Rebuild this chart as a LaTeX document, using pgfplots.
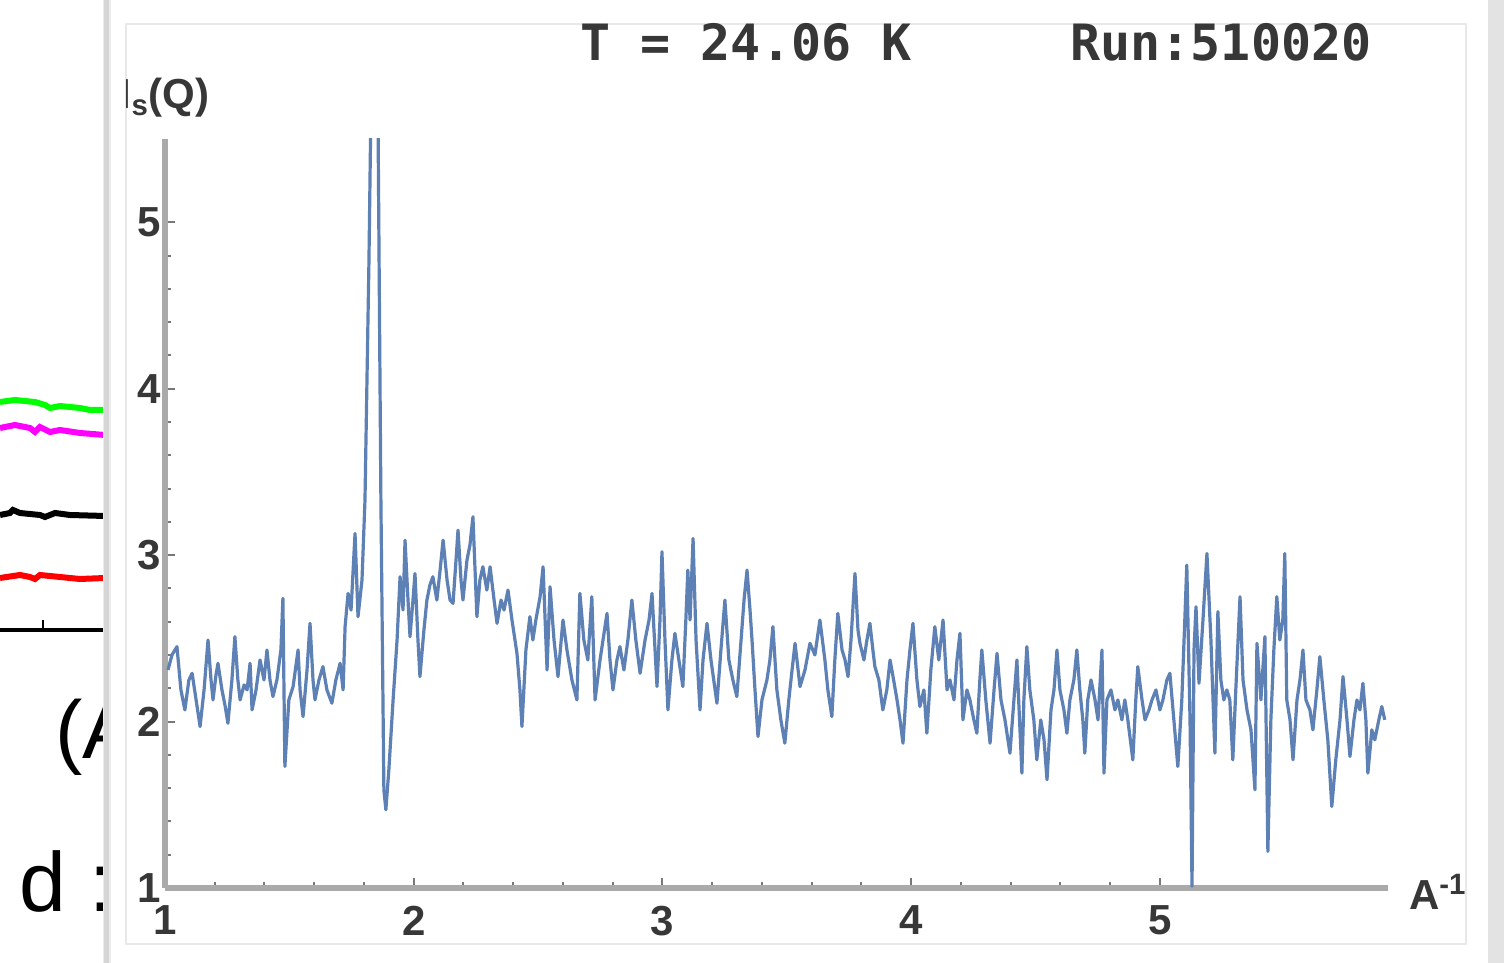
\documentclass[border=0pt]{standalone}
\usepackage{pgfplots}
\pgfplotsset{compat=1.18}
\usepackage{fontspec}
\setmainfont{Liberation Sans}
\newfontfamily\monofont{DejaVu Sans Mono}
\definecolor{mblue}{RGB}{94,129,181}
\definecolor{axisgray}{RGB}{170,170,170}
\definecolor{tickgray}{RGB}{120,120,120}
\definecolor{labelgray}{RGB}{55,55,55}
\definecolor{fgreen}{RGB}{0,255,0}
\definecolor{fmagenta}{RGB}{255,0,255}
\definecolor{fred}{RGB}{255,0,0}
\begin{document}
\begin{tikzpicture}
\useasboundingbox (0,0) rectangle (752pt,481.5pt);
% ---- fragment of a neighbouring chart on the left
\begin{axis}[
  at={(0pt,166.5pt)}, anchor=south west, scale only axis,
  width=52.5pt, height=125pt,
  xmin=0, xmax=105, ymin=0, ymax=250,
  axis x line=bottom, axis y line=none,
  x axis line style={-, black, line width=2pt},
  xtick={43}, xticklabels={}, tick align=inside,
  major tick length=5pt, tick style={black, line width=1pt},
]
\addplot[fgreen, line width=3pt] coordinates {(0,228) (15,230) (35,228) (45,225) (50,222) (60,224) (80,222) (90,220) (105,220)};
\addplot[fmagenta, line width=3pt] coordinates {(0,202) (15,205) (30,202) (35,198) (40,203) (50,198) (60,200) (80,197) (105,195)};
\addplot[black, line width=3pt] coordinates {(0,115) (10,117) (13,120) (20,117) (40,115) (45,113) (55,117) (70,115) (105,114)};
\addplot[fred, line width=3pt] coordinates {(0,52) (20,55) (30,53) (35,51) (40,55) (60,53) (80,51) (105,52)};
\end{axis}
\node[anchor=base west, inner sep=0, font=\fontsize{41}{41}\selectfont] at (27.5pt,102pt) {(A};
\node[anchor=base west, inner sep=0, font=\fontsize{42}{42}\selectfont] at (9.5pt,25.5pt) {d :};
% ---- panel
\fill[white] (52pt,0) rectangle (744pt,481.5pt);
\fill[gray!15] (51.5pt,0) rectangle (55.5pt,481.5pt);
\fill[gray!32] (52pt,0) rectangle (54.3pt,481.5pt);
\fill[gray!22] (744pt,0) rectangle (752pt,481.5pt);
\draw[gray!18, line width=0.6pt] (63pt,9.5pt) rectangle (733pt,469.5pt);
% ---- title
\node[anchor=west, inner sep=0, text=labelgray, font=\monofont\bfseries\fontsize{25}{25}\selectfont] at (290pt,460.5pt) {T = 24.06 K};
\node[anchor=west, inner sep=0, text=labelgray, font=\monofont\bfseries\fontsize{25}{25}\selectfont] at (535pt,460.5pt) {Run:510020};
% ---- y label (clipped by frame)
\begin{scope}
\clip (63pt,0) rectangle (752pt,481.5pt);
\node[anchor=east, inner sep=0, text=labelgray, font=\bfseries\fontsize{21}{21}\selectfont] at (105pt,432.5pt) {I\textsubscript{s}(Q)};
\end{scope}
% ---- main plot
\begin{axis}[
  at={(82.5pt,37.5pt)}, anchor=south west, scale only axis,
  width=611.5pt, height=374.5pt,
  xmin=1, xmax=5.917, ymin=1, ymax=5.5,
  axis lines=left,
  axis line style={-, axisgray, line width=3pt},
  xtick={1,2,3,4,5}, ytick={1,2,3,4,5},
  minor x tick num=4, minor y tick num=4,
  tick align=inside, major tick length=5pt, minor tick length=3pt,
  tick style={tickgray, line width=1pt},
  /pgf/number format/assume math mode=true,
  ticklabel style={font=\bfseries\fontsize{21}{21}\selectfont, text=labelgray},
  xticklabel style={yshift=-5.5pt},
  yticklabel style={xshift=1.5pt},
  xlabel={\textbf{A}\textsuperscript{\textbf{-1}}},
  xlabel style={at={(rel axis cs:1,0)}, anchor=west, xshift=7pt, yshift=-2pt, text=labelgray, font=\fontsize{21}{21}\selectfont},
  clip=true,
]
\addplot[mblue, line width=1.6pt, line join=round] table {
x y
1.012 2.31
1.028 2.40
1.048 2.45
1.064 2.19
1.080 2.07
1.096 2.25
1.109 2.29
1.125 2.13
1.141 1.97
1.157 2.19
1.173 2.49
1.185 2.25
1.193 2.13
1.205 2.28
1.213 2.35
1.229 2.19
1.241 2.10
1.253 1.99
1.269 2.25
1.281 2.51
1.293 2.25
1.302 2.13
1.318 2.22
1.330 2.19
1.342 2.35
1.350 2.07
1.366 2.19
1.382 2.37
1.398 2.25
1.410 2.43
1.422 2.25
1.434 2.15
1.450 2.25
1.466 2.43
1.474 2.74
1.482 1.73
1.498 2.13
1.515 2.21
1.535 2.43
1.543 2.19
1.555 2.03
1.571 2.31
1.583 2.59
1.595 2.25
1.603 2.13
1.619 2.25
1.635 2.33
1.651 2.19
1.671 2.11
1.687 2.25
1.704 2.35
1.716 2.19
1.724 2.57
1.736 2.77
1.748 2.67
1.764 3.13
1.776 2.63
1.792 2.85
1.804 3.33
1.820 4.77
1.828 5.70
1.856 5.70
1.868 3.33
1.880 1.59
1.888 1.47
1.900 1.71
1.917 2.13
1.933 2.49
1.945 2.87
1.957 2.67
1.965 3.09
1.977 2.73
1.985 2.51
1.997 2.73
2.005 2.89
2.017 2.49
2.025 2.27
2.041 2.55
2.053 2.73
2.065 2.82
2.077 2.87
2.093 2.73
2.106 2.91
2.118 3.09
2.134 2.85
2.146 2.73
2.158 2.71
2.170 2.97
2.178 3.15
2.190 2.85
2.198 2.73
2.214 2.97
2.226 3.06
2.238 3.23
2.254 2.63
2.266 2.85
2.278 2.93
2.294 2.79
2.307 2.93
2.323 2.73
2.335 2.59
2.351 2.73
2.363 2.67
2.379 2.79
2.395 2.61
2.407 2.49
2.415 2.41
2.427 2.19
2.435 1.97
2.451 2.43
2.467 2.63
2.479 2.49
2.491 2.61
2.508 2.75
2.520 2.93
2.536 2.31
2.548 2.81
2.564 2.49
2.580 2.27
2.600 2.61
2.616 2.43
2.636 2.25
2.656 2.13
2.668 2.77
2.684 2.49
2.700 2.37
2.716 2.75
2.729 2.13
2.749 2.37
2.761 2.49
2.777 2.65
2.789 2.37
2.801 2.19
2.817 2.37
2.829 2.45
2.845 2.31
2.861 2.49
2.877 2.73
2.893 2.49
2.910 2.29
2.930 2.49
2.946 2.61
2.958 2.77
2.978 2.21
2.990 2.61
2.998 3.02
3.010 2.49
3.022 2.07
3.038 2.37
3.050 2.53
3.066 2.37
3.082 2.21
3.094 2.61
3.102 2.91
3.111 2.61
3.123 3.10
3.135 2.49
3.151 2.07
3.163 2.37
3.179 2.59
3.195 2.37
3.219 2.11
3.235 2.43
3.251 2.73
3.267 2.37
3.283 2.25
3.299 2.15
3.316 2.49
3.328 2.73
3.340 2.91
3.352 2.67
3.360 2.49
3.372 2.19
3.384 1.91
3.400 2.13
3.420 2.25
3.432 2.37
3.444 2.57
3.460 2.19
3.476 2.01
3.492 1.87
3.508 2.13
3.521 2.31
3.533 2.47
3.553 2.21
3.573 2.31
3.593 2.47
3.613 2.40
3.633 2.61
3.653 2.37
3.665 2.19
3.681 2.03
3.693 2.37
3.705 2.65
3.722 2.43
3.734 2.37
3.746 2.27
3.758 2.49
3.774 2.89
3.786 2.55
3.794 2.47
3.810 2.37
3.822 2.49
3.834 2.59
3.846 2.43
3.854 2.33
3.870 2.25
3.886 2.07
3.902 2.19
3.915 2.37
3.927 2.27
3.943 2.13
3.955 2.01
3.967 1.87
3.983 2.25
3.995 2.43
4.007 2.59
4.023 2.25
4.035 2.09
4.051 2.19
4.063 1.93
4.079 2.31
4.095 2.57
4.111 2.37
4.128 2.61
4.144 2.19
4.156 2.25
4.172 2.13
4.184 2.37
4.196 2.53
4.208 2.01
4.224 2.19
4.236 2.13
4.252 2.01
4.264 1.93
4.276 2.25
4.284 2.43
4.300 2.13
4.317 1.87
4.333 2.19
4.345 2.41
4.361 2.13
4.377 2.01
4.397 1.81
4.413 2.13
4.425 2.37
4.445 1.69
4.453 2.13
4.465 2.45
4.477 2.19
4.493 2.01
4.505 1.77
4.521 2.01
4.534 1.89
4.546 1.65
4.562 2.07
4.574 2.19
4.586 2.43
4.598 2.19
4.614 2.07
4.626 1.93
4.638 2.13
4.654 2.25
4.666 2.43
4.678 2.19
4.690 2.01
4.698 1.81
4.710 2.13
4.723 2.25
4.739 2.13
4.751 2.01
4.767 2.43
4.775 1.69
4.787 2.13
4.803 2.19
4.819 2.07
4.831 2.13
4.847 2.01
4.859 2.13
4.871 2.01
4.891 1.77
4.903 2.13
4.911 2.33
4.928 2.13
4.940 2.01
4.956 2.07
4.968 2.13
4.984 2.19
5.000 2.07
5.012 2.13
5.028 2.25
5.040 2.29
5.056 2.01
5.072 1.73
5.088 2.13
5.100 2.61
5.108 2.94
5.121 2.01
5.129 1.01
5.137 2.43
5.145 2.69
5.157 2.23
5.173 2.61
5.189 3.01
5.205 2.49
5.221 1.81
5.233 2.66
5.245 2.25
5.257 2.13
5.269 2.19
5.281 2.13
5.293 1.77
5.305 2.19
5.322 2.75
5.334 2.25
5.350 2.07
5.366 1.95
5.382 1.59
5.390 2.47
5.406 2.13
5.422 2.51
5.434 1.22
5.446 2.01
5.458 2.43
5.470 2.75
5.482 2.49
5.494 2.61
5.502 3.01
5.510 2.13
5.523 2.01
5.535 1.77
5.551 2.13
5.563 2.25
5.575 2.43
5.587 2.13
5.603 2.07
5.615 1.95
5.631 2.19
5.643 2.39
5.659 2.13
5.675 1.89
5.691 1.49
5.707 1.77
5.724 2.01
5.736 2.27
5.752 2.01
5.764 1.79
5.780 2.01
5.792 2.13
5.804 2.07
5.816 2.23
5.828 2.01
5.836 1.69
5.852 1.95
5.864 1.89
5.880 2.01
5.892 2.09
5.904 2.01
};
\end{axis}
\end{tikzpicture}
\end{document}
